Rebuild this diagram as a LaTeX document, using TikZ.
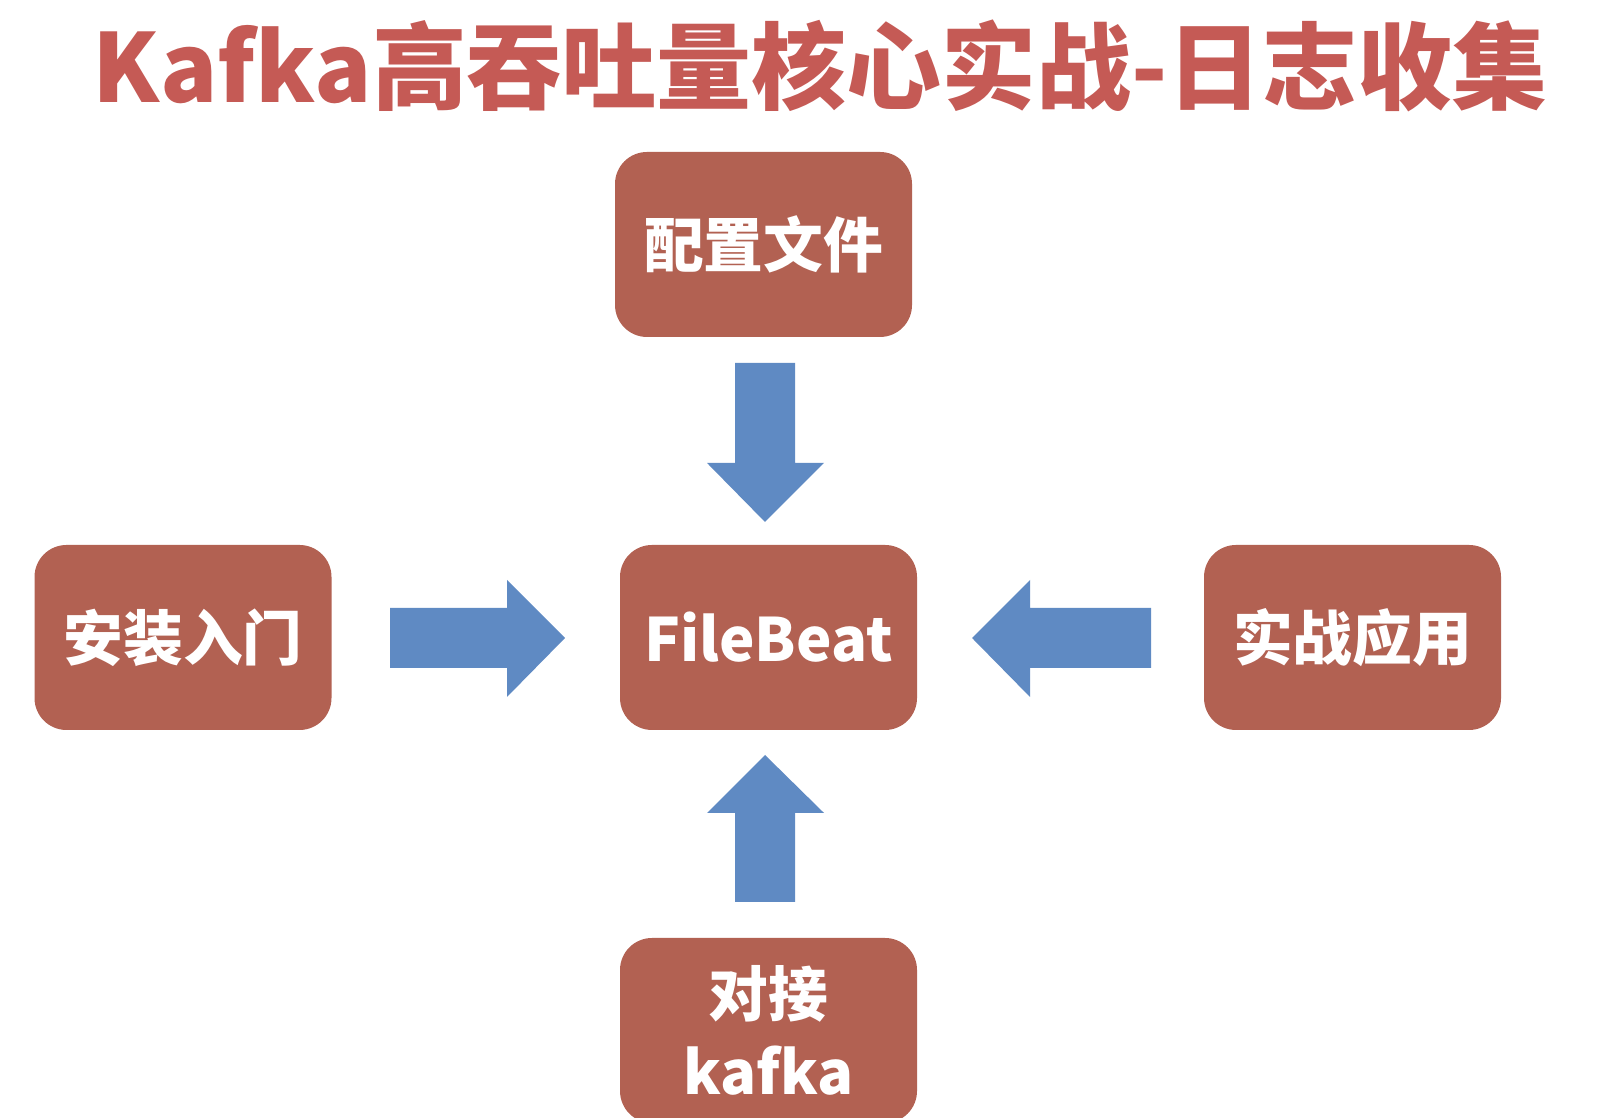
\documentclass[tikz,border=0pt]{standalone}
\usepackage{fontspec}
\setmainfont{Noto Sans CJK SC}
\newfontfamily\cjkbold[BoldFont={Noto Sans CJK SC Bold}]{Noto Sans CJK SC}
\definecolor{boxred}{HTML}{B26152}
\definecolor{titlered}{HTML}{C55A55}
\definecolor{arrowblue}{HTML}{5F8AC3}
\tikzset{
    stagebox/.style={rounded corners=0.32cm, fill=boxred, minimum width=2.97cm,
        minimum height=1.85cm, text=white, font=\fontsize{17}{22}\selectfont\bfseries,
        align=center, inner sep=0pt},
    blockarrow/.style={fill=arrowblue},
}
\begin{document}
\begin{tikzpicture}
    \useasboundingbox (0,0) rectangle (16,11.18);
    \clip (0,0) rectangle (16,11.18);
    \node[text=titlered, font=\fontsize{27}{30}\selectfont\bfseries] (title) at (8.2,10.52) {Kafka高吞吐量核心实战-日志收集};
    % boxes
    \node[stagebox] (config) at (7.635,8.735) {配置文件};
    \node[stagebox] (filebeat) at (7.685,4.805) {FileBeat};
    \node[stagebox] (install) at (1.83,4.805) {安装入门};
    \node[stagebox] (practice) at (13.525,4.805) {实战应用};
    \node[stagebox] (kafka) at (7.685,0.875) {对接\\kafka};
    % arrows
    \fill[blockarrow] (7.35,7.55) -- (7.95,7.55) -- (7.95,6.55) -- (8.24,6.55) -- (7.65,5.96) -- (7.07,6.55) -- (7.35,6.55) -- cycle;
    \fill[blockarrow] (3.90,4.50) -- (3.90,5.10) -- (5.07,5.10) -- (5.07,5.38) -- (5.65,4.80) -- (5.07,4.21) -- (5.07,4.50) -- cycle;
    \fill[blockarrow] (11.51,4.50) -- (11.51,5.10) -- (10.30,5.10) -- (10.30,5.38) -- (9.72,4.80) -- (10.30,4.21) -- (10.30,4.50) -- cycle;
    \fill[blockarrow] (7.35,2.16) -- (7.95,2.16) -- (7.95,3.05) -- (8.24,3.05) -- (7.65,3.63) -- (7.07,3.05) -- (7.35,3.05) -- cycle;
\end{tikzpicture}
\end{document}
